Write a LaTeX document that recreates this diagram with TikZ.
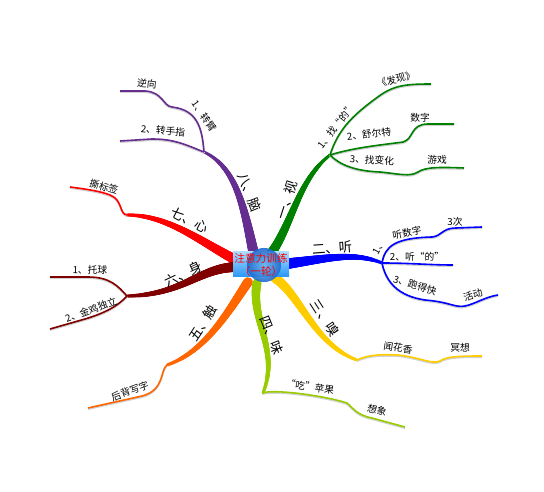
\documentclass[tikz,border=0pt]{standalone}
\usepackage{fontspec}
\setmainfont{Noto Sans CJK SC}
\usetikzlibrary{decorations.markings}
\definecolor{cpur}{RGB}{102,45,145}
\definecolor{cgrn}{RGB}{0,128,0}
\definecolor{cblu}{RGB}{0,0,255}
\definecolor{cyel}{RGB}{255,204,0}
\definecolor{clim}{RGB}{153,204,0}
\definecolor{corg}{RGB}{255,102,0}
\definecolor{cdrd}{RGB}{128,0,0}
\definecolor{cred}{RGB}{255,0,0}
\definecolor{boxtop}{RGB}{170,220,255}
\definecolor{boxbot}{RGB}{40,150,250}
\definecolor{globein}{RGB}{110,185,240}
\definecolor{globeout}{RGB}{30,105,205}
\begin{document}
\begin{tikzpicture}[x=0.75pt,y=-0.75pt,
  taper/.style n args={3}{postaction={decorate,decoration={markings,
    mark=between positions 0 and 1 step 0.4pt with {%
      \pgfmathsetmacro\rr{#1+(#2-#1)*\pgfkeysvalueof{/pgf/decoration/mark info/distance from start}/\pgfdecoratedpathlength}%
      \fill[#3] (0,0) circle (\rr pt);}}}},
  twig/.style={draw=#1, line width=1.2pt,
    preaction={draw=black!18, line width=1.2pt, transform canvas={yshift=-0.9pt}}},
  mainlbl/.style={font=\fontsize{10}{12}\selectfont, inner sep=0pt},
  sublbl/.style={font=\fontsize{7.3}{8}\selectfont, inner sep=0pt},
]
\useasboundingbox (0,0) rectangle (544,492);

% ---------- purple: 八、脑
\coordinate (p0) at (253,250); \coordinate (p1) at (204,152);
\coordinate (p2) at (120,91); \coordinate (p3) at (120,141);
\path[taper={3.8}{1.1}{cpur}] (p0) .. controls (244,208) and (236,167) .. (p1);
\draw[twig=cpur] (p1) .. controls (202,125) and (196,110) .. (172,107) .. controls (163,106) and (163,92) .. (145,91) -- (p2);
\draw[twig=cpur] (p1) .. controls (186,145) and (175,139) .. (152,139) -- (p3);
\node[mainlbl,rotate=-68] (m8) at (250,192) {八、脑};
\node[sublbl,rotate=-55] (l81) at (204,116) {1、转臂};
\node[sublbl,rotate=-5] (l811) at (147,84) {逆向};
\node[sublbl,rotate=-6] (l82) at (163,131) {2、转手指};

% ---------- red: 七、心
\coordinate (r0) at (240,262); \coordinate (r1) at (127,215); \coordinate (r2) at (70,187);
\path[taper={3.9}{1.2}{cred}] (r0) .. controls (205,245) and (170,215) .. (r1);
\draw[twig=cred] (r1) .. controls (119,214) and (123,200) .. (110,195) .. controls (100,191) and (85,189) .. (r2);
\node[mainlbl,rotate=-28] (m7) at (190,220) {七、心};
\node[sublbl,rotate=-15] (l71) at (104,187) {撕标签};

% ---------- dark red: 六、身
\coordinate (d0) at (240,267); \coordinate (d1) at (127,296);
\coordinate (d2) at (50,277); \coordinate (d3) at (50,329);
\path[taper={3.9}{1.2}{cdrd}] (d0) .. controls (200,266) and (185,295) .. (d1);
\draw[twig=cdrd] (d1) .. controls (118,286) and (110,277) .. (88,277) -- (d2);
\draw[twig=cdrd] (d1) .. controls (118,306) and (105,313) .. (85,319) -- (d3);
\node[mainlbl,rotate=25] (m6) at (183,274) {六、身};
\node[sublbl,rotate=-2] (l61) at (90,270) {1、托球};
\node[sublbl,rotate=20] (l62) at (91,310) {2、金鸡独立};

% ---------- orange: 五、触
\coordinate (o0) at (248,282); \coordinate (o1) at (167,365); \coordinate (o2) at (88,408);
\path[taper={3.6}{1.2}{corg}] (o0) .. controls (228,312) and (205,352) .. (o1);
\draw[twig=corg] (o1) .. controls (160,370) and (165,390) .. (142,396) -- (o2);
\node[mainlbl,rotate=57] (m5) at (203,323) {五、触};
\node[sublbl,rotate=20] (l51) at (130,391) {后背写字};

% ---------- lime: 四、味
\coordinate (g0) at (257,283); \coordinate (g1) at (263,393); \coordinate (g2) at (405,427);
\path[taper={3.4}{1.2}{clim}] (g0) .. controls (250,320) and (280,350) .. (g1);
\draw[twig=clim] (g1) .. controls (272,389) and (322,395) .. (347,403) .. controls (354,409) and (357,415) .. (372,418) -- (g2);
\node[mainlbl,rotate=-68] (m4) at (272,335) {四、味};
\node[sublbl,rotate=-9] (l41) at (310,387) {“吃”苹果};
\node[sublbl,rotate=-15] (l411) at (377,410) {想象};

% ---------- yellow: 三、嗅
\coordinate (y0) at (275,278); \coordinate (y1) at (357,360); \coordinate (y2) at (482,356);
\path[taper={3.6}{1.2}{cyel}] (y0) .. controls (300,295) and (315,345) .. (y1);
\draw[twig=cyel] (y1) .. controls (366,356) and (375,354) .. (397,355) .. controls (420,357) and (432,365) .. (440,361) .. controls (446,357) and (455,356) .. (y2);
\node[mainlbl,rotate=-57] (m3) at (325,318) {三、嗅};
\node[sublbl,rotate=-8] (l31) at (398,348) {闻花香};
\node[sublbl] (l311) at (460,348) {冥想};

% ---------- blue: 二、听
\coordinate (b0) at (285,264); \coordinate (b1) at (382,263);
\coordinate (b2) at (482,227); \coordinate (b3) at (453,265); \coordinate (b4) at (498,295);
\path[taper={4.1}{1.2}{cblu}] (b0) .. controls (330,258) and (355,252) .. (b1);
\draw[twig=cblu] (b1) .. controls (385,246) and (395,238) .. (432,237) .. controls (442,236) and (442,228) .. (456,228) -- (b2);
\draw[twig=cblu] (b1) .. controls (410,263) and (430,265) .. (b3);
\draw[twig=cblu] (b1) .. controls (386,282) and (398,296) .. (425,300) .. controls (450,302) and (455,308) .. (465,306) .. controls (475,304) and (485,297) .. (b4);
\node[mainlbl,rotate=4] (m2) at (332,248) {二、听};
\node[sublbl,rotate=60] (l21a) at (379,247) {1、};
\node[sublbl,rotate=12] (l21) at (407,233) {听数字};
\node[sublbl] (l211) at (455,222) {3次};
\node[sublbl] (l22) at (417,257) {2、听“的”};
\node[sublbl,rotate=-17] (l23) at (415,285) {3、跑得快};
\node[sublbl,rotate=18] (l231) at (473,295) {活动};

% ---------- green: 一、视
\coordinate (n0) at (270,255); \coordinate (n1) at (330,155);
\coordinate (n2) at (431,84); \coordinate (n3) at (454,124); \coordinate (n4) at (464,168);
\path[taper={3.6}{1.2}{cgrn}] (n0) .. controls (292,225) and (298,180) .. (n1);
\draw[twig=cgrn] (n1) .. controls (338,130) and (352,116) .. (375,99) .. controls (392,86) and (402,84) .. (n2);
\draw[twig=cgrn] (n1) .. controls (355,147) and (390,144) .. (403,142) .. controls (414,139) and (410,124) .. (428,124) -- (n3);
\draw[twig=cgrn] (n1) .. controls (340,165) and (355,171) .. (380,172) .. controls (400,174) and (410,177) .. (418,172) .. controls (425,167) and (440,167) .. (n4);
\node[mainlbl,rotate=72] (m1) at (287,200) {一、视};
\node[sublbl,rotate=52] (l11) at (336,126) {1、找“的”};
\node[sublbl,rotate=15] (l111) at (396,79) {《发现》};
\node[sublbl,rotate=7] (l12) at (369,134) {2、舒尔特};
\node[sublbl] (l121) at (420,118) {数字};
\node[sublbl,rotate=-4] (l13) at (372,160) {3、找变化};
\node[sublbl] (l131) at (437,160) {游戏};

% ---------- centre
\shade[top color=boxtop, bottom color=boxbot] (233,252) rectangle (289,277);
\shade[inner color=globein, outer color=globeout, opacity=0.9] (264,265) circle[radius=12.8pt];
\node[font=\fontsize{8}{9.5}\selectfont, text=red, align=center, inner sep=0pt] (c) at (261,265) {注意力训练\\（一轮）};
\end{tikzpicture}
\end{document}
